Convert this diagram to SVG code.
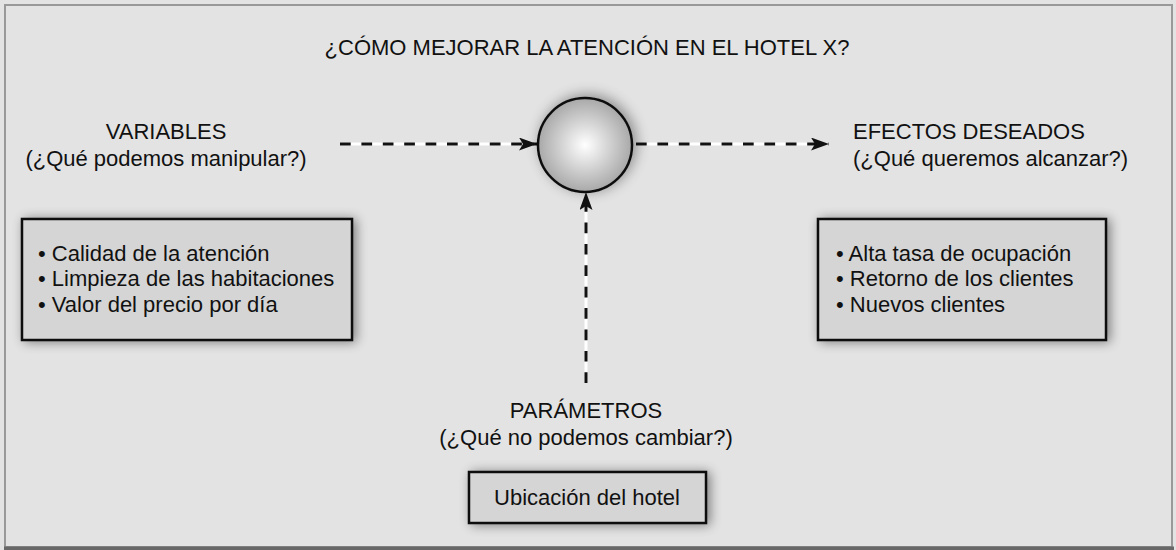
<svg xmlns="http://www.w3.org/2000/svg" width="1176" height="550" viewBox="0 0 1176 550">
<style>
  text { font-family: "Liberation Sans", Arial, sans-serif; font-size: 22px; fill: #111; }
  .c { text-anchor: middle; }
  .box { fill: #d5d5d5; stroke: #111; stroke-width: 2.5; filter: url(#sh); }
  .wline { stroke: #fff; stroke-width: 3; fill: none; }
  .dline { stroke: #111; stroke-width: 3; fill: none; stroke-dasharray: 10.7 10.7; }
</style>
<defs>
  <filter id="sh" x="-20%" y="-30%" width="140%" height="160%">
    <feGaussianBlur in="SourceAlpha" stdDeviation="6"/>
    <feOffset dx="3" dy="1" result="b"/>
    <feComponentTransfer><feFuncA type="linear" slope="0.45"/></feComponentTransfer>
    <feMerge><feMergeNode/><feMergeNode in="SourceGraphic"/></feMerge>
  </filter>
  <filter id="csh" x="-50%" y="-50%" width="200%" height="200%">
    <feGaussianBlur in="SourceAlpha" stdDeviation="7"/>
    <feOffset dx="3" dy="-2" result="b"/>
    <feComponentTransfer><feFuncA type="linear" slope="0.4"/></feComponentTransfer>
    <feMerge><feMergeNode/><feMergeNode in="SourceGraphic"/></feMerge>
  </filter>
  <radialGradient id="g" cx="0.5" cy="0.5" r="0.5">
    <stop offset="0" stop-color="#ffffff"/>
    <stop offset="1" stop-color="#a8a8a8"/>
  </radialGradient>
  <marker id="ah" viewBox="0 0 18 13" refX="18" refY="6.5" markerWidth="18" markerHeight="13" markerUnits="userSpaceOnUse" orient="auto">
    <path d="M0,0 L18,6.5 L0,13 L4,6.5 Z" fill="#111"/>
  </marker>
</defs>

<rect x="0" y="0" width="1176" height="550" fill="#e3e3e3"/>
<rect x="5" y="5" width="1167" height="542" fill="#e3e3e3" stroke="#999" stroke-width="2"/>
<rect x="4" y="546.5" width="1170" height="3.5" fill="#686868"/>

<g id="title"><text class="c" x="587" y="55">¿CÓMO MEJORAR LA ATENCIÓN EN EL HOTEL X?</text></g>

<g id="connectors">
  <line class="wline" x1="340" y1="144" x2="522" y2="144"/>
  <line class="dline" x1="340" y1="144" x2="537" y2="144" marker-end="url(#ah)"/>
  <line class="wline" x1="636" y1="144" x2="814" y2="144"/>
  <line class="dline" x1="636" y1="144" x2="829" y2="144" marker-end="url(#ah)"/>
  <line class="wline" x1="586" y1="383" x2="586" y2="208"/>
  <line class="dline" x1="586" y1="383" x2="586" y2="192" marker-end="url(#ah)"/>
</g>

<g id="center">
  <circle cx="585" cy="145" r="47" fill="url(#g)" stroke="#111" stroke-width="2.5" filter="url(#csh)"/>
</g>

<g id="variables-label">
  <text class="c" x="166" y="139">VARIABLES</text>
  <text class="c" x="166" y="166">(¿Qué podemos manipular?)</text>
</g>
<g id="variables-box">
  <rect class="box" x="22" y="219" width="330" height="121"/>
  <text x="38" y="261">• Calidad de la atención</text>
  <text x="38" y="286">• Limpieza de las habitaciones</text>
  <text x="38" y="312">• Valor del precio por día</text>
</g>

<g id="efectos-label">
  <text x="853" y="139">EFECTOS DESEADOS</text>
  <text x="853" y="166">(¿Qué queremos alcanzar?)</text>
</g>
<g id="efectos-box">
  <rect class="box" x="818" y="219" width="288" height="121"/>
  <text x="836" y="261">• Alta tasa de ocupación</text>
  <text x="836" y="286">• Retorno de los clientes</text>
  <text x="836" y="312">• Nuevos clientes</text>
</g>

<g id="parametros-label">
  <text class="c" x="586" y="418">PARÁMETROS</text>
  <text class="c" x="586" y="445">(¿Qué no podemos cambiar?)</text>
</g>
<g id="parametros-box">
  <rect class="box" x="469" y="472" width="237" height="51"/>
  <text class="c" x="587" y="505">Ubicación del hotel</text>
</g>
</svg>
